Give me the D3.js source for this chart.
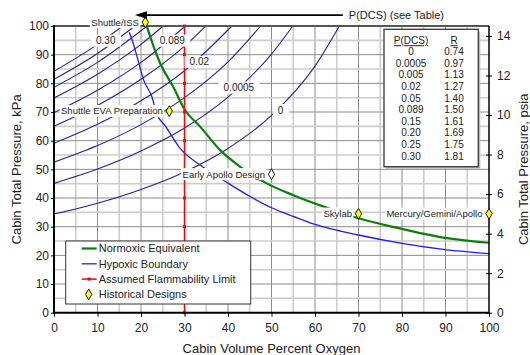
<!DOCTYPE html>
<html>
<head>
<meta charset="utf-8">
<script src="https://cdn.jsdelivr.net/npm/d3@7"></script>
<style>
  body { margin: 0; background: #fff; }
  svg { display: block; font-family: Arial, "Liberation Sans", sans-serif; }
</style>
</head>
<body>
<svg id="chart" width="530" height="355"></svg>
<script>
// ---- data: [% O2, kPa] ----
const dcsTable = ["0", "0.0005", "0.005", "0.02", "0.05", "0.089", "0.15", "0.20", "0.25", "0.30"];
const rTable = ["0.74", "0.97", "1.13", "1.27", "1.40", "1.50", "1.61", "1.69", "1.75", "1.81"];

// one iso-P(DCS) line per table row
const dcsLines = [
  [[0, 34.4], [10, 38.2], [20, 43.0], [30, 49.1], [40, 57.3], [50, 68.8], [60, 86.0], [65.6, 100]],
  [[0, 45.1], [10, 50.1], [20, 56.4], [30, 64.4], [40, 75.2], [50, 90.2], [54.9, 100]],
  [[0, 52.5], [10, 58.3], [20, 65.6], [30, 75.0], [40, 87.5], [47.5, 100]],
  [[0, 59.1], [10, 65.7], [20, 73.9], [30, 84.4], [40.9, 100]],
  [[0, 65.1], [10, 72.3], [20, 81.4], [30, 93.0], [34.9, 100]],
  [[0, 69.8], [10, 77.6], [20, 87.3], [30.2, 100]],
  [[0, 74.9], [10, 83.2], [20, 93.6], [25.1, 100]],
  [[0, 78.6], [10, 87.3], [21.4, 100]],
  [[0, 81.4], [10, 90.4], [18.6, 100]],
  [[0, 84.2], [10, 93.6], [15.8, 100]]
];
const dcsLabelText = ["0.30", "0.089", "0.02", "0.0005", "0"];
const dcsLabelAt = [[11.9, 94.9], [27.2, 94.9], [33.4, 87.5], [42.5, 78.5], [52.1, 70.7]];

const hypoxic = [[17.3, 97.8], [18.2, 94.0], [19.2, 88.7], [20.6, 81.2], [22.5, 75.3], [23.6, 69.5],
  [25.7, 64.9], [29, 57.3], [33.6, 51.5], [40, 45.2], [45, 40.6], [50, 36.6], [55, 33.6],
  [60, 30.8], [70, 27.1], [80, 24.2], [90, 22.0], [100, 20.6]];

const normoxic = [[21.1, 101.2], [22.1, 96.3], [24.4, 87.0], [27.4, 78.8], [30.1, 70.7], [33.6, 64.9],
  [38.2, 56.7], [42.8, 50.9], [48.9, 45.1], [55, 41.0], [62, 37.0], [69.4, 33.2], [79.5, 29.4],
  [90.3, 26.0], [100, 24.4]];

const flammO2 = 30;
const flammKPa = [0, 10, 20, 30, 40, 50, 60, 70, 80, 90, 100];

const designNames = ["Shuttle/ISS", "Shuttle EVA Preparation", "Early Apollo Design", "Skylab", "Mercury/Gemini/Apollo"];
const designO2 = [21, 26.5, 50, 70, 100];
const designKPa = [101.3, 70.3, 48.3, 34.5, 34.5];

const kpaTicks = [0, 10, 20, 30, 40, 50, 60, 70, 80, 90, 100];
const o2Ticks = [0, 10, 20, 30, 40, 50, 60, 70, 80, 90, 100];
const psiTicks = [0, 2, 4, 6, 8, 10, 12, 14];
const KPA_PER_PSI = 6.894757;

// ---- layout ----
const plot = {left: 54, right: 489, top: 26, bottom: 312.7};
const svg = d3.select('#chart');

const x = d3.scaleLinear().domain([0, 100]).range([plot.left, plot.right]);
const y = d3.scaleLinear().domain([0, 100]).range([plot.bottom, plot.top]);
const yPsi = d3.scaleLinear().domain([0, 100 / KPA_PER_PSI]).range([plot.bottom, plot.top]);

svg.append('defs').append('clipPath').attr('id', 'plotClip')
  .append('rect')
  .attr('x', plot.left).attr('y', plot.top - 1)
  .attr('width', plot.right - plot.left).attr('height', plot.bottom - plot.top + 1);

// grid, every 5 units; the tens darker
const grid = svg.append('g').attr('class', 'grid');
const gridVals = [5, 10, 15, 20, 25, 30, 35, 40, 45, 50, 55, 60, 65, 70, 75, 80, 85, 90, 95];
grid.selectAll('line.v').data(gridVals).join('line')
  .attr('class', 'v')
  .attr('x1', d => x(d)).attr('x2', d => x(d))
  .attr('y1', plot.top).attr('y2', plot.bottom)
  .attr('stroke', d => d % 10 ? '#cccccc' : '#8c8c8c')
  .attr('stroke-width', d => d % 10 ? 1.6 : 1);
grid.selectAll('line.h').data(gridVals).join('line')
  .attr('class', 'h')
  .attr('x1', plot.left).attr('x2', plot.right)
  .attr('y1', d => y(d)).attr('y2', d => y(d))
  .attr('stroke', d => d % 10 ? '#cccccc' : '#8c8c8c')
  .attr('stroke-width', d => d % 10 ? 1.6 : 1);

const line = d3.line()
  .x(d => x(d[0]))
  .y(d => y(d[1]))
  .curve(d3.curveMonotoneX);

const curves = svg.append('g').attr('clip-path', 'url(#plotClip)');

curves.selectAll('path.dcs').data(dcsLines).join('path')
  .attr('class', 'dcs')
  .attr('d', line)
  .attr('fill', 'none')
  .attr('stroke', '#23239c')
  .attr('stroke-width', 1.1);

curves.append('path')
  .attr('d', line(hypoxic))
  .attr('fill', 'none')
  .attr('stroke', '#1c1cff')
  .attr('stroke-width', 1.3);

svg.append('path')
  .attr('d', line(normoxic))
  .attr('fill', 'none')
  .attr('stroke', '#0a800a')
  .attr('stroke-width', 2.2);

// flammability limit
svg.append('line')
  .attr('x1', x(flammO2)).attr('x2', x(flammO2))
  .attr('y1', y(0)).attr('y2', y(100))
  .attr('stroke', '#ff0000')
  .attr('stroke-width', 1.5);
svg.append('g').selectAll('rect').data(flammKPa).join('rect')
  .attr('x', x(flammO2) - 1.5).attr('y', d => y(d) - 1.5)
  .attr('width', 3).attr('height', 3)
  .attr('fill', '#ff0000');

// text with a white box behind it
function boxedText(g, str, px, py, anchor, size, padX, padY) {
  const grp = g.append('g');
  const t = grp.append('text')
    .attr('x', px).attr('y', py)
    .attr('dy', '0.35em')
    .attr('text-anchor', anchor)
    .attr('font-size', size)
    .attr('fill', '#222')
    .text(str);
  const b = t.node().getBBox();
  grp.insert('rect', 'text')
    .attr('x', b.x - padX).attr('y', b.y - padY)
    .attr('width', b.width + 2 * padX).attr('height', b.height + 2 * padY)
    .attr('fill', '#fff');
  return grp;
}

const labels = svg.append('g');
dcsLabelText.forEach((s, i) => {
  boxedText(labels, s, x(dcsLabelAt[i][0]), y(dcsLabelAt[i][1]), 'middle', 10, 5, 0.5);
});

// axes
const left = svg.append('g')
  .attr('transform', `translate(${plot.left},0)`)
  .call(d3.axisLeft(y).tickValues(kpaTicks).tickSize(3).tickPadding(2));
const bottom = svg.append('g')
  .attr('transform', `translate(0,${plot.bottom})`)
  .call(d3.axisBottom(x).tickValues(o2Ticks).tickSize(4).tickPadding(7));
const right = svg.append('g')
  .attr('transform', `translate(${plot.right},0)`)
  .call(d3.axisRight(yPsi).tickValues(psiTicks).tickSize(3).tickPadding(5));
right.selectAll('.tick').append('line')
  .attr('x2', -3).attr('stroke', '#000');

[left, bottom, right].forEach(a => {
  a.selectAll('text').attr('font-size', 12).attr('font-family', null).attr('fill', '#222');
  a.select('.domain').remove();
  a.selectAll('.tick line').attr('stroke', '#000');
});

// frame
svg.append('line')
  .attr('x1', plot.left).attr('x2', plot.right)
  .attr('y1', plot.top).attr('y2', plot.top)
  .attr('stroke', '#555').attr('stroke-width', 2);
svg.append('line')
  .attr('x1', plot.right).attr('x2', plot.right)
  .attr('y1', plot.top).attr('y2', plot.bottom)
  .attr('stroke', '#000').attr('stroke-width', 1.5);
svg.append('line')
  .attr('x1', plot.left).attr('x2', plot.left)
  .attr('y1', plot.top - 1).attr('y2', plot.bottom + 1)
  .attr('stroke', '#000').attr('stroke-width', 2);
svg.append('line')
  .attr('x1', plot.left - 1).attr('x2', plot.right)
  .attr('y1', plot.bottom).attr('y2', plot.bottom)
  .attr('stroke', '#000').attr('stroke-width', 2);

// historical designs
const designs = svg.append('g');
designNames.forEach((name, i) => {
  boxedText(designs, name, x(designO2[i]) - 6.5, y(designKPa[i]), 'end', 9.5, 1.5, 0.5);
});
const diamond = d3.symbol().type(d3.symbolDiamond).size(34);
designs.selectAll('path').data(designNames).join('path')
  .attr('transform', (d, i) => `translate(${x(designO2[i])},${y(designKPa[i])})`)
  .attr('d', diamond)
  .attr('fill', (d, i) => designNames[i] === 'Early Apollo Design' ? '#fff' : '#ffff00')
  .attr('stroke', '#000')
  .attr('stroke-width', 0.9);

// arrow pointing at the iso lines
const arrowY = y(103.8);
svg.append('line')
  .attr('x1', x(18.6) + 8).attr('x2', x(66.4))
  .attr('y1', arrowY).attr('y2', arrowY)
  .attr('stroke', '#000').attr('stroke-width', 1.6);
svg.append('path')
  .attr('d', `M${x(18.6)},${arrowY} l12,-3.8 l0,7.6 z`)
  .attr('fill', '#000');
svg.append('text')
  .attr('x', x(66.4) + 6).attr('y', arrowY)
  .attr('dy', '0.35em')
  .attr('font-size', 11)
  .attr('fill', '#222')
  .text('P(DCS) (see Table)');

// table box
const table = svg.append('g');
table.append('rect')
  .attr('x', 386).attr('y', 31.3).attr('width', 94.3).attr('height', 137.4)
  .attr('fill', '#bbb');
table.append('rect')
  .attr('x', 384).attr('y', 29.3).attr('width', 94.3).attr('height', 137.4)
  .attr('fill', '#fff').attr('stroke', '#444').attr('stroke-width', 1.4);
const colP = 411, colR = 454;
const tableFont = 10;
table.append('text').attr('x', colP).attr('y', 40.7).attr('dy', '0.35em')
  .attr('text-anchor', 'middle').attr('font-size', tableFont).attr('fill', '#222')
  .attr('text-decoration', 'underline').text('P(DCS)');
table.append('text').attr('x', colR).attr('y', 40.7).attr('dy', '0.35em')
  .attr('text-anchor', 'middle').attr('font-size', tableFont).attr('fill', '#222')
  .attr('text-decoration', 'underline').text('R');
table.selectAll('text.p').data(dcsTable).join('text')
  .attr('class', 'p')
  .attr('x', colP).attr('y', (d, i) => 51.7 + i * 11.6).attr('dy', '0.35em')
  .attr('text-anchor', 'middle').attr('font-size', tableFont).attr('fill', '#222')
  .text(d => d);
table.selectAll('text.r').data(rTable).join('text')
  .attr('class', 'r')
  .attr('x', colR).attr('y', (d, i) => 51.7 + i * 11.6).attr('dy', '0.35em')
  .attr('text-anchor', 'middle').attr('font-size', tableFont).attr('fill', '#222')
  .text(d => d);

// legend
const legendItems = ['Normoxic Equivalent', 'Hypoxic Boundary', 'Assumed Flammability Limit', 'Historical Designs'];
const legend = svg.append('g');
legend.append('rect')
  .attr('x', 65.7).attr('y', 241).attr('width', 185).attr('height', 63)
  .attr('fill', '#fff').attr('stroke', '#333').attr('stroke-width', 1);
const rowY = i => 248.5 + i * 15.3;
legend.append('line').attr('x1', 81.7).attr('x2', 96.7).attr('y1', rowY(0)).attr('y2', rowY(0))
  .attr('stroke', '#0a800a').attr('stroke-width', 2.2);
legend.append('line').attr('x1', 81.7).attr('x2', 96.7).attr('y1', rowY(1)).attr('y2', rowY(1))
  .attr('stroke', '#1c1cff').attr('stroke-width', 1.3);
legend.append('line').attr('x1', 81.7).attr('x2', 96.7).attr('y1', rowY(2)).attr('y2', rowY(2))
  .attr('stroke', '#ff0000').attr('stroke-width', 1.5);
legend.append('rect').attr('x', 87.7).attr('y', rowY(2) - 1.5).attr('width', 3).attr('height', 3)
  .attr('fill', '#ff0000');
legend.append('path')
  .attr('transform', `translate(88.7,${rowY(3)})`)
  .attr('d', diamond)
  .attr('fill', '#ffff00').attr('stroke', '#000').attr('stroke-width', 0.9);
legend.selectAll('text').data(legendItems).join('text')
  .attr('x', 98.7).attr('y', (d, i) => rowY(i)).attr('dy', '0.35em')
  .attr('font-size', 11).attr('fill', '#222')
  .text(d => d);

// axis titles
svg.append('text')
  .attr('x', (plot.left + plot.right) / 2).attr('y', 348).attr('dy', '0.35em')
  .attr('text-anchor', 'middle').attr('font-size', 13).attr('fill', '#222')
  .text('Cabin Volume Percent Oxygen');
svg.append('text')
  .attr('transform', `translate(16,${(plot.top + plot.bottom) / 2}) rotate(-90)`)
  .attr('dy', '0.35em')
  .attr('text-anchor', 'middle').attr('font-size', 13).attr('fill', '#222')
  .text('Cabin Total Pressure, kPa');
svg.append('text')
  .attr('transform', `translate(523,${(plot.top + plot.bottom) / 2}) rotate(-90)`)
  .attr('dy', '0.35em')
  .attr('text-anchor', 'middle').attr('font-size', 13).attr('fill', '#222')
  .text('Cabin Total Pressure, psia');
</script>
</body>
</html>
